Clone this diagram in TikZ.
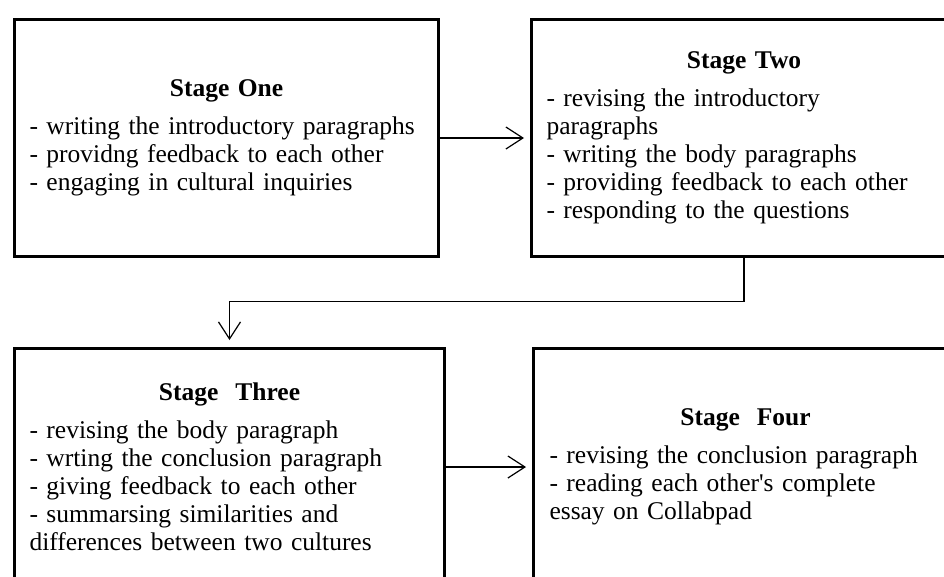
\documentclass[tikz,border=0pt]{standalone}
\usepackage{fontspec}
\setmainfont{Liberation Serif}[Ligatures=TeXOff]
\usetikzlibrary{positioning, arrows.meta}

\tikzset{
    stage/.style={draw, line width=3pt, minimum height=237pt, inner xsep=15pt, inner ysep=0pt,
        text width=394pt, font=\fontsize{25.5}{28}\selectfont},
    flow/.style={-{Straight Barb[length=17pt, width=22pt]}, line width=1.2pt, shorten >=6pt}
}
\newcommand{\stagehead}[1]{{\centering\bfseries #1\par}\vspace{10pt}\raggedright}

\begin{document}
\begin{tikzpicture}
        \useasboundingbox (0,0) rectangle (944pt,-576pt);
        \clip (0,0) rectangle (944pt,-576pt);
        \node [stage, anchor=north west] (one) at (13pt,-18pt) {\stagehead{Stage One}
            - writing the introductory paragraphs\\
            - providng feedback to each other\\
            - engaging in cultural inquiries};
        \node [stage, right=90pt of one, text width=395pt] (two) {\stagehead{Stage Two}
            - revising the introductory\\
            paragraphs\\
            - writing the body paragraphs\\
            - providing feedback to each other\\
            - responding to the questions};
        \node [stage, below=89pt of one.south west, anchor=north west, text width=400pt] (three) {\stagehead{Stage\ \ Three}
            - revising the body paragraph\\
            - wrting the conclusion paragraph\\
            - giving feedback to each other\\
            - summarsing similarities and\\
            differences between two cultures};
        \node [stage, right=86pt of three, inner xsep=16pt, text width=392pt] (four) {\stagehead{Stage\ \ Four}
            - revising the conclusion paragraph\\
            - reading each other's complete\\
            essay on Collabpad};
        \draw [flow] (one) -- (two);
        \draw [flow, shorten >=7pt] (two.south) -- ++(0,-43.5pt) -| (three.north);
        \draw [flow] (three) -- (four);
    \end{tikzpicture}
\end{document}
